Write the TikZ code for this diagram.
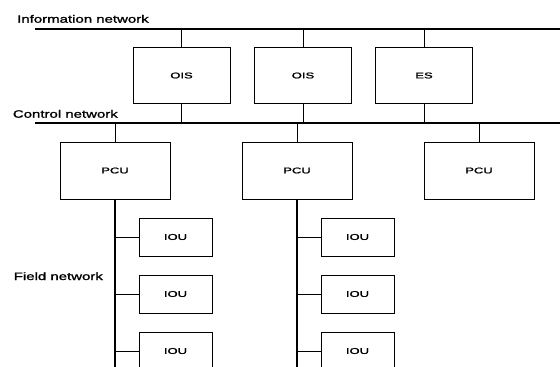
\documentclass[tikz,border=0pt]{standalone}
\usepackage{fontspec}
\usepackage{graphicx}
\setmainfont{Liberation Sans}[BoldFont=Liberation Sans, BoldFeatures={FakeBold=1.2}]
\newcommand\widetext[2]{\scalebox{#1}[1]{#2}}
\tikzset{
  unitbox/.style={draw, line width=0.9pt, inner sep=0pt, minimum height=#1,
    font=\fontsize{8.4}{10}\selectfont\bfseries},
  osbox/.style={unitbox=56pt, minimum width=97pt},
  pcubox/.style={unitbox=57pt, minimum width=110pt},
  ioubox/.style={unitbox=38pt, minimum width=73pt},
  netlabel/.style={anchor=base west, inner sep=0pt, font=\fontsize{10.7}{12}\selectfont\bfseries},
  bus/.style={line width=2.2pt},
  fieldbus/.style={line width=2.5pt},
  link/.style={line width=0.9pt}
}
\begin{document}
\begin{tikzpicture}[x=1pt,y=-1pt]
\useasboundingbox (0,0) rectangle (560,367);
\clip (0,0) rectangle (560,367);
% labels
\node[netlabel] (infolab) at (17,22.7) {\widetext{1.4}{Information network}};
\node[netlabel] (ctrllab) at (12.7,117.7) {\widetext{1.4}{Control network}};
\node[netlabel] (fieldlab) at (13.6,280) {\widetext{1.4}{Field network}};
% buses
\coordinate (infoL) at (35,29.3);
\coordinate (infoR) at (562,29.3);
\coordinate (ctrlL) at (35,123.3);
\coordinate (ctrlR) at (562,123.3);
\coordinate (fieldEnd) at (0,372);
\draw[bus] (infoL) -- (infoR);
\draw[bus] (ctrlL) -- (ctrlR);
% upper boxes
\node[osbox] (ois1) at (181.5,75.5) {\widetext{1.55}{OIS}};
\node[osbox] (ois2) at (303,75.5) {\widetext{1.55}{OIS}};
\node[osbox] (es) at (424,75.5) {\widetext{1.55}{ES}};
% PCUs
\node[pcubox] (pcu1) at (115,170.5) {\widetext{1.55}{PCU}};
\node[pcubox] (pcu2) at (297,170.5) {\widetext{1.55}{PCU}};
\node[pcubox] (pcu3) at (479,170.5) {\widetext{1.55}{PCU}};
% IOUs
\node[ioubox] (iou11) at (175.5,237) {\widetext{1.55}{IOU}};
\node[ioubox] (iou12) at (175.5,294) {\widetext{1.55}{IOU}};
\node[ioubox] (iou13) at (175.5,351) {\widetext{1.55}{IOU}};
\node[ioubox] (iou21) at (357.5,237) {\widetext{1.55}{IOU}};
\node[ioubox] (iou22) at (357.5,294) {\widetext{1.55}{IOU}};
\node[ioubox] (iou23) at (357.5,351) {\widetext{1.55}{IOU}};
% connectors
\foreach \n in {ois1,ois2,es}{
  \draw[link] (\n.north) -- (\n.north |- infoL);
  \draw[link] (\n.south) -- (\n.south |- ctrlL);
}
\foreach \n in {pcu1,pcu2,pcu3}{
  \draw[link] (\n.north) -- (\n.north |- ctrlL);
}
\draw[fieldbus] (pcu1.south) -- (pcu1.south |- fieldEnd);
\draw[fieldbus] (pcu2.south) -- (pcu2.south |- fieldEnd);
\foreach \n in {iou11,iou12,iou13}{
  \draw[link] (\n.west) -- (\n.west -| pcu1.south);
}
\foreach \n in {iou21,iou22,iou23}{
  \draw[link] (\n.west) -- (\n.west -| pcu2.south);
}
\end{tikzpicture}
\end{document}
